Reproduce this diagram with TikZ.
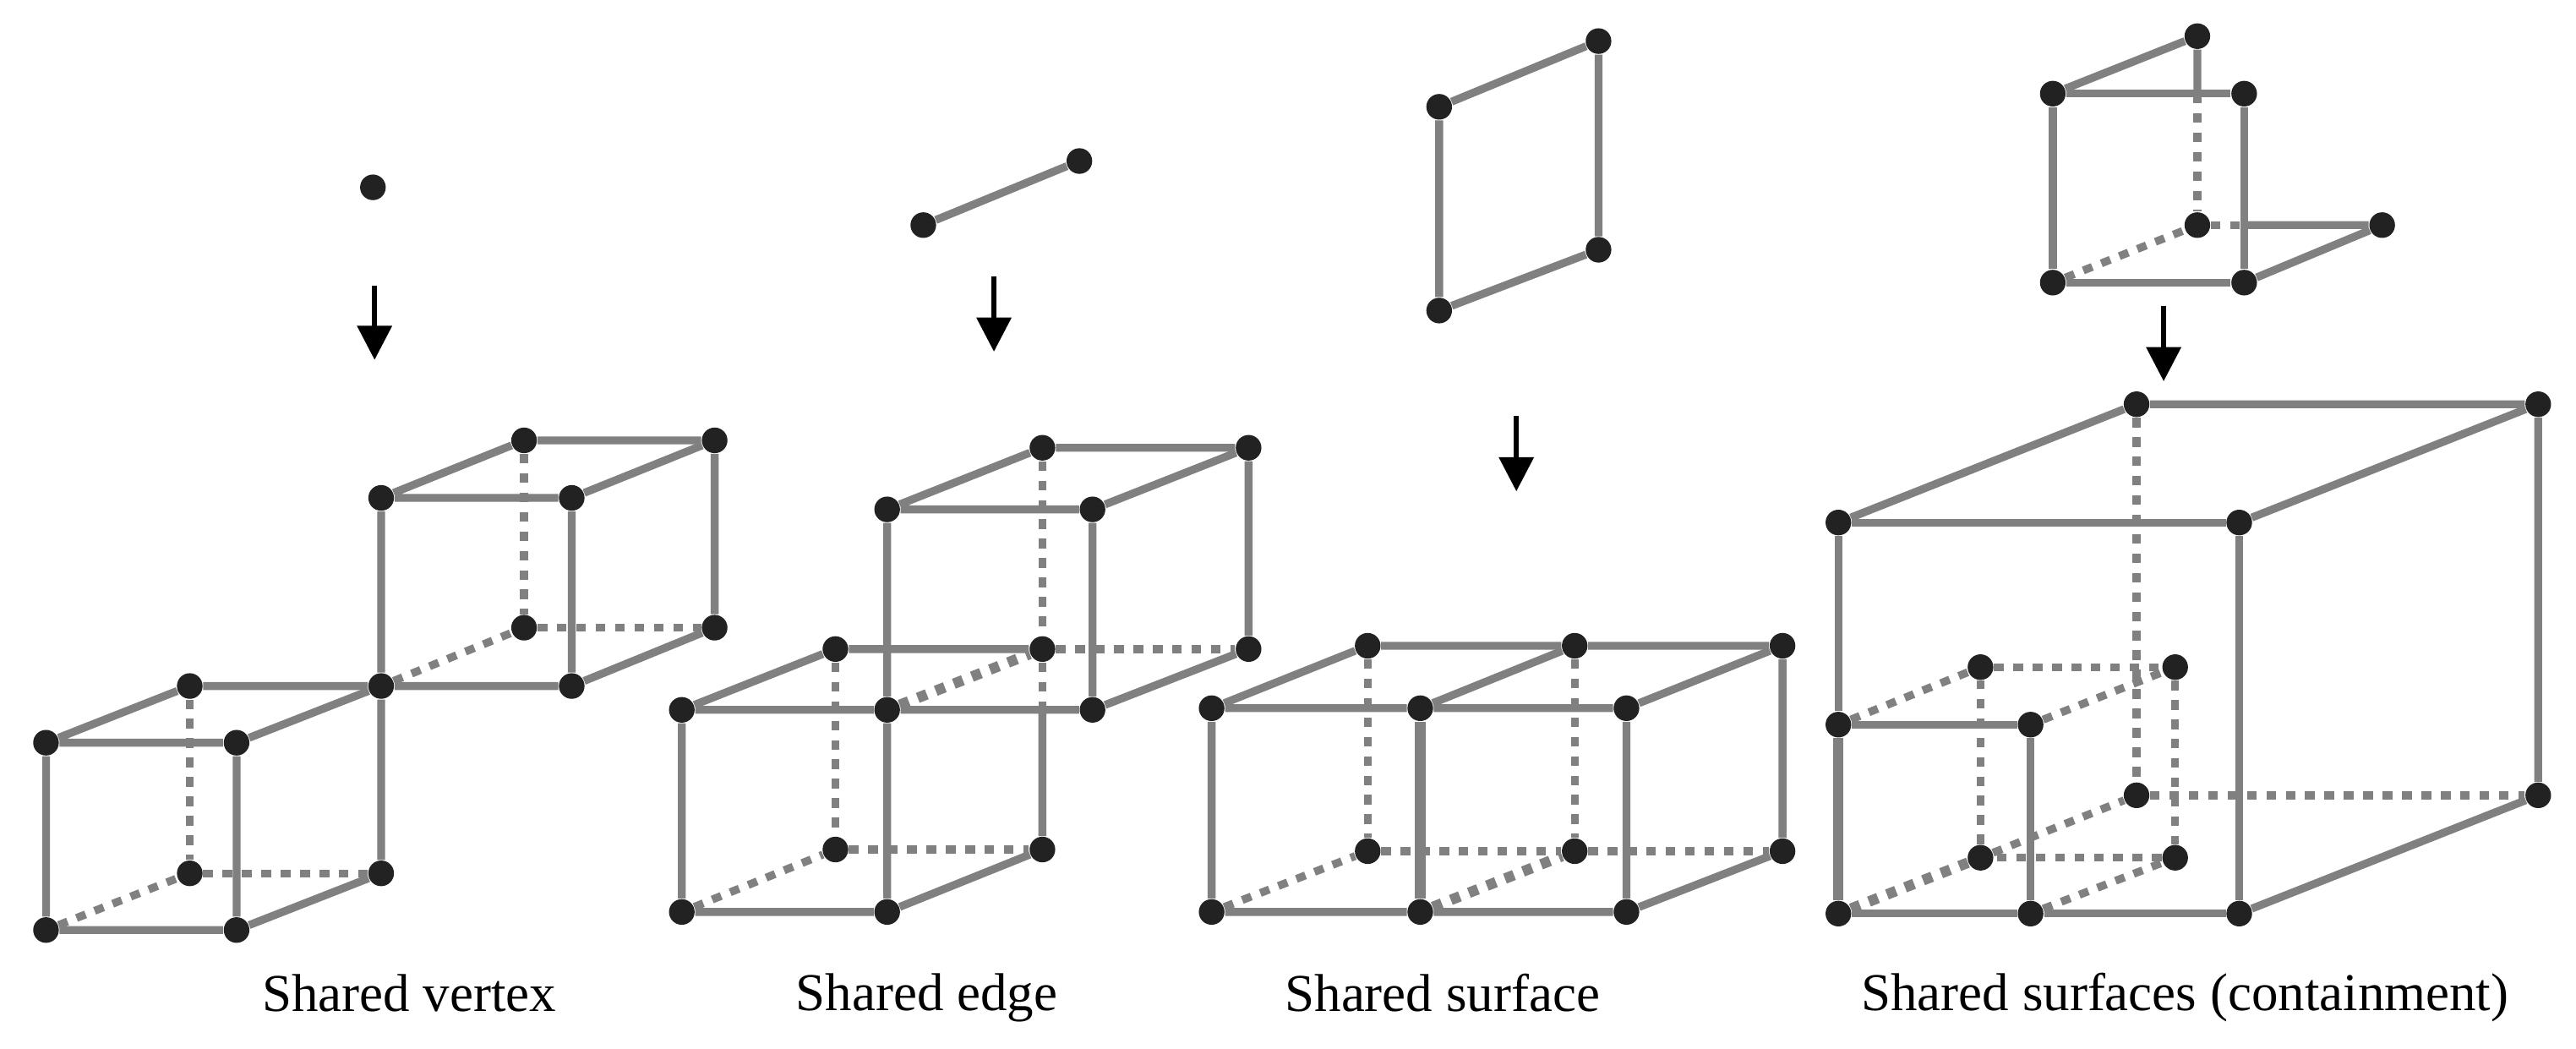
\documentclass[tikz,border=0pt]{standalone}
\usepackage{fontspec}
\setmainfont{Liberation Serif}
\usetikzlibrary{arrows.meta}
\definecolor{wirecolor}{RGB}{128,128,128}
\definecolor{vtxcolor}{RGB}{34,34,34}
\tikzset{
  vtx/.style     = {circle, fill=vtxcolor, inner sep=0pt, minimum size=7.8pt},
  wire/.style    = {draw=wirecolor, line width=2.4pt},
  hidden/.style  = {draw=wirecolor, line width=2.4pt, dash pattern=on 2.95pt off 2.95pt},
  pointer/.style = {-{Stealth[length=10.4pt, width=10.4pt, inset=0pt]}, line width=1.5pt, color=black},
  caption/.style = {font=\fontsize{16.2}{19}\selectfont, inner sep=0pt, anchor=base},
}

\begin{document}
\begin{tikzpicture}[x=0.5pt, y=-0.5pt]
  \useasboundingbox (0,0) rectangle (1568,638);

  % shared vertex
  \node[vtx] (vdot) at (227,114) {};
  \coordinate (vfrom) at (228,174);
  \coordinate (vto) at (228,219);
  \draw[pointer] (vfrom) -- (vto);
  \node[vtx] (aftl) at (28,452) {};
  \node[vtx] (aftr) at (144,452) {};
  \node[vtx] (afbl) at (28,566) {};
  \node[vtx] (afbr) at (144,566) {};
  \node[vtx] (abtl) at (115.5,417.5) {};
  \node[vtx] (abtr) at (232,417.5) {};
  \node[vtx] (abbl) at (115.5,531.5) {};
  \node[vtx] (abbr) at (232,531.5) {};
  \node[vtx] (bftl) at (232,303) {};
  \node[vtx] (bftr) at (348,303) {};
  \node[vtx] (bfbr) at (348,417.5) {};
  \node[vtx] (bbtl) at (319,268) {};
  \node[vtx] (bbtr) at (435,268) {};
  \node[vtx] (bbbl) at (319,382) {};
  \node[vtx] (bbbr) at (435,382) {};
  \draw[wire] (aftl) -- (aftr) -- (afbr) -- (afbl) -- (aftl) -- (abtl) -- (abtr) -- (abbr) -- (afbr);
  \draw[wire] (aftr) -- (abtr);
  \draw[hidden] (abtl) -- (abbl) -- (abbr);
  \draw[hidden] (afbl) -- (abbl);
  \draw[wire] (bftl) -- (bftr) -- (bfbr) -- (abtr) -- (bftl) -- (bbtl) -- (bbtr) -- (bbbr) -- (bfbr);
  \draw[wire] (bftr) -- (bbtr);
  \draw[hidden] (bbtl) -- (bbbl) -- (bbbr);
  \draw[hidden] (abtr) -- (bbbl);
  \node[caption] (vcap) at (249,615.5) {Shared vertex};

  % shared edge
  \node[vtx] (eend) at (562,137) {};
  \node[vtx] (efar) at (657,98) {};
  \draw[wire] (eend) -- (efar);
  \coordinate (efrom) at (605,168);
  \coordinate (eto) at (605,214);
  \draw[pointer] (efrom) -- (eto);
  \node[vtx] (cftl) at (415,432) {};
  \node[vtx] (cftr) at (540,432) {};
  \node[vtx] (cfbl) at (415,555) {};
  \node[vtx] (cfbr) at (540,555) {};
  \node[vtx] (cbtl) at (508.5,395) {};
  \node[vtx] (cbtr) at (634.5,395) {};
  \node[vtx] (cbbl) at (508.5,517) {};
  \node[vtx] (cbbr) at (634.5,517) {};
  \node[vtx] (dftl) at (540,310) {};
  \node[vtx] (dftr) at (665,310) {};
  \node[vtx] (dfbr) at (665,432) {};
  \node[vtx] (dbtl) at (634.5,272.5) {};
  \node[vtx] (dbtr) at (760,272.5) {};
  \node[vtx] (dbbr) at (760,395) {};
  \coordinate (ecross) at (634.5,432);
  \draw[wire] (cftl) -- (cftr) -- (cfbr) -- (cfbl) -- (cftl) -- (cbtl) -- (cbtr);
  \draw[wire] (cfbr) -- (cbbr) -- (ecross);
  \draw[hidden] (cbtl) -- (cbbl) -- (cbbr);
  \draw[hidden] (cfbl) -- (cbbl);
  \draw[hidden, line width=3.2pt] (cftr) -- (cbtr);
  \draw[wire] (dftl) -- (dftr) -- (dfbr) -- (cftr) -- (dftl) -- (dbtl) -- (dbtr) -- (dbbr) -- (dfbr);
  \draw[wire] (dftr) -- (dbtr);
  \draw[hidden] (dbtl) -- (cbtr) -- (ecross);
  \draw[hidden] (cbtr) -- (dbbr);
  \node[caption] (ecap) at (564,615) {Shared edge};

  % shared surface
  \node[vtx] (stl) at (876,65) {};
  \node[vtx] (str) at (973,25) {};
  \node[vtx] (sbl) at (876,189) {};
  \node[vtx] (sbr) at (973,152) {};
  \draw[wire] (stl) -- (str) -- (sbr) -- (sbl) -- (stl);
  \coordinate (sfrom) at (923,253);
  \coordinate (sto) at (923,299);
  \draw[pointer] (sfrom) -- (sto);
  \node[vtx] (fftl) at (737.5,431) {};
  \node[vtx] (fftm) at (864.5,431) {};
  \node[vtx] (fftr) at (990,431) {};
  \node[vtx] (ffbl) at (737.5,555) {};
  \node[vtx] (ffbm) at (864.5,555) {};
  \node[vtx] (ffbr) at (990,555) {};
  \node[vtx] (fbtl) at (832.5,393) {};
  \node[vtx] (fbtm) at (958.5,393) {};
  \node[vtx] (fbtr) at (1085,393) {};
  \node[vtx] (fbbl) at (832.5,518) {};
  \node[vtx] (fbbm) at (958.5,518) {};
  \node[vtx] (fbbr) at (1085,518) {};
  \draw[wire] (fftl) -- (fftm) -- (fftr) -- (ffbr) -- (ffbm) -- (ffbl) -- (fftl) -- (fbtl) -- (fbtm) -- (fbtr) -- (fbbr) -- (ffbr);
  \draw[wire] (fftm) -- (fbtm);
  \draw[wire] (fftr) -- (fbtr);
  \draw[wire, line width=3.2pt] (fftm) -- (ffbm);
  \draw[hidden] (fbtl) -- (fbbl) -- (fbbm) -- (fbbr);
  \draw[hidden] (fbtm) -- (fbbm);
  \draw[hidden] (ffbl) -- (fbbl);
  \draw[hidden, line width=3.2pt] (ffbm) -- (fbbm);
  \node[caption] (scap) at (878,615.5) {Shared surface};

  % shared surfaces (containment)
  \node[vtx] (mftl) at (1249.5,57) {};
  \node[vtx] (mftr) at (1366,57) {};
  \node[vtx] (mfbl) at (1249.5,172) {};
  \node[vtx] (mfbr) at (1366,172) {};
  \node[vtx] (mbtl) at (1337.5,22) {};
  \node[vtx] (mbbl) at (1337.5,137) {};
  \node[vtx] (mbbr) at (1450,137) {};
  \coordinate (mcrossup) at (1337.5,57);
  \coordinate (mcrossrt) at (1366,137);
  \draw[wire] (mftr) -- (mftl) -- (mfbl) -- (mfbr) -- (mftr);
  \draw[wire] (mftl) -- (mbtl) -- (mcrossup);
  \draw[wire] (mcrossrt) -- (mbbr) -- (mfbr);
  \draw[hidden] (mcrossup) -- (mbbl) -- (mcrossrt);
  \draw[hidden] (mfbl) -- (mbbl);
  \coordinate (mfrom) at (1317,186);
  \coordinate (mto) at (1317,232);
  \draw[pointer] (mfrom) -- (mto);
  \node[vtx] (oftl) at (1119,318) {};
  \node[vtx] (oftr) at (1363,318) {};
  \node[vtx] (ofbl) at (1119,556) {};
  \node[vtx] (ofbr) at (1363,556) {};
  \node[vtx] (obtl) at (1300.5,246) {};
  \node[vtx] (obtr) at (1545,246) {};
  \node[vtx] (obbl) at (1300.5,484) {};
  \node[vtx] (obbr) at (1545,484) {};
  \node[vtx] (iftl) at (1119,441) {};
  \node[vtx] (iftr) at (1236,441) {};
  \node[vtx] (ifbr) at (1236,556) {};
  \node[vtx] (ibtl) at (1205.5,406) {};
  \node[vtx] (ibtr) at (1324,406) {};
  \node[vtx] (ibbl) at (1205.5,522) {};
  \node[vtx] (ibbr) at (1324,522) {};
  \draw[wire] (iftl) -- (oftl) -- (oftr) -- (ofbr) -- (ifbr) -- (ofbl);
  \draw[wire] (oftl) -- (obtl) -- (obtr) -- (obbr) -- (ofbr);
  \draw[wire] (oftr) -- (obtr);
  \draw[wire, line width=3.2pt] (iftl) -- (ofbl);
  \draw[wire] (iftl) -- (iftr) -- (ifbr);
  \draw[hidden] (obtl) -- (obbl) -- (obbr);
  \draw[hidden] (ibbl) -- (obbl);
  \draw[hidden, line width=3.2pt] (ofbl) -- (ibbl);
  \draw[hidden] (ibtl) -- (ibtr) -- (ibbr) -- (ibbl) -- (ibtl);
  \draw[hidden] (iftl) -- (ibtl);
  \draw[hidden] (iftr) -- (ibtr);
  \draw[hidden] (ifbr) -- (ibbr);
  \node[caption] (ccap) at (1330,615) {Shared surfaces (containment)};
\end{tikzpicture}
\end{document}
